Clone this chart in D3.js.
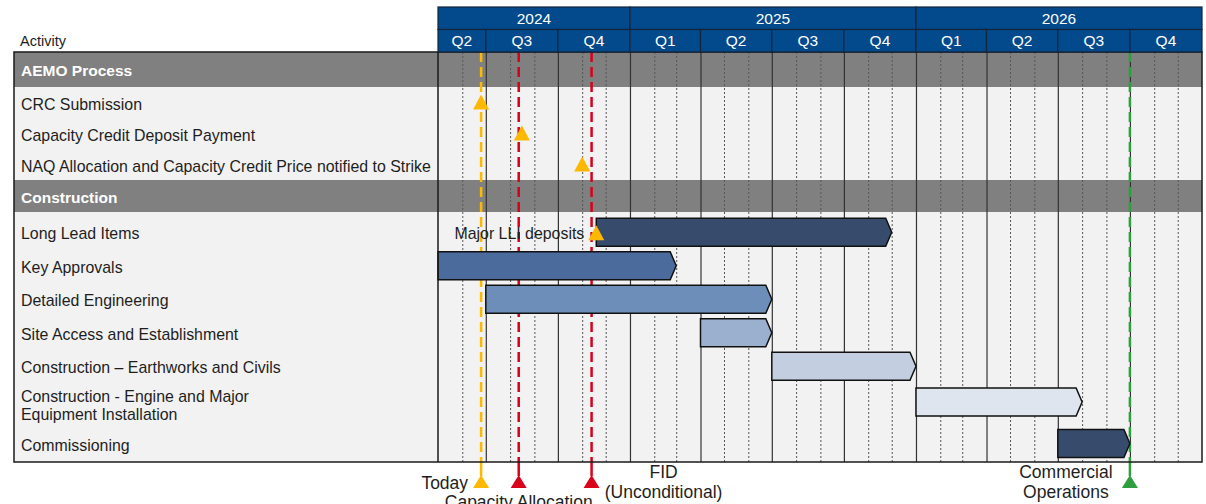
<!DOCTYPE html>
<html lang="en">
<head>
<meta charset="UTF-8">
<title>Project Schedule - Gantt</title>
<script src="https://d3js.org/d3.v7.min.js"></script>
<style>
    body { margin: 0; background: #fff; }
    text { font-family: "Liberation Sans", Arial, sans-serif; }
    .lbl { font-size: 15.9px; fill: #1e1e1e; }
    .sec { font-size: 15.5px; font-weight: bold; fill: #fff; }
    .hdr { font-size: 15.5px; fill: #fff; }
    .evt { font-size: 17.5px; fill: #1e1e1e; }
</style>
</head>
<body>
<div id="chart"></div>
<script>
    // ---- data ----
    const years = ["2024", "2025", "2026"];
    const quarterLabels = ["Q1", "Q2", "Q3", "Q4"];

    const sections = ["AEMO Process", "Construction"];

    const milestoneNames = [
        "CRC Submission",
        "Capacity Credit Deposit Payment",
        "NAQ Allocation and Capacity Credit Price notified to Strike"
    ];
    const milestoneDates = ["2024-06-25", "2024-08-16", "2024-11-01"];

    const taskNames = [
        "Long Lead Items",
        "Key Approvals",
        "Detailed Engineering",
        "Site Access and Establishment",
        "Construction \u2013 Earthworks and Civils",
        "Construction - Engine and Major|Equipment Installation",
        "Commissioning"
    ];
    const taskStarts = ["2024-11-19", "2024-05-01", "2024-07-01", "2025-04-01", "2025-07-01", "2026-01-01", "2026-07-01"];
    const taskEnds   = ["2025-12-01", "2025-03-01", "2025-07-01", "2025-07-01", "2026-01-01", "2026-08-01", "2026-10-01"];

    // milestone drawn on a task row
    const taskMilestoneName = "Major LLI deposits";
    const taskMilestoneDate = "2024-11-19";

    const eventNames = ["Today", "Capacity Allocation", "FID|(Unconditional)", "Commercial|Operations"];
    const eventDates = ["2024-06-25", "2024-08-12", "2024-11-13", "2026-10-01"];

    // ---- layout ----
    const W = 1206, H = 504;
    const tableLeft = 14, chartLeft = 438, chartRight = 1202;
    const tableTop = 52;
    const parse = d3.timeParse("%Y-%m-%d");
    const domainStart = parse("2024-05-01"), domainEnd = parse("2027-01-01");

    const taskColors = ["#374c6d", "#4a6b9b", "#6e8eba", "#9bafce", "#c3cee0", "#dfe5ef", "#374c6d"];
    const eventColors = ["#ffb800", "#d9001b", "#d9001b", "#2e9e3e"];
    const orange = "#ffb800";

    const x = d3.scaleTime().domain([domainStart, domainEnd]).range([chartLeft, chartRight]);

    // build rows top to bottom
    const rows = [];
    let cy = tableTop;
    function addRow(r, h) { r.y0 = cy; r.h = h; r.cy = cy + h / 2; cy += h; rows.push(r); }
    addRow({ kind: "section", name: sections[0] }, 35);
    milestoneNames.forEach((n, i) => addRow({ kind: "milestone", name: n, date: parse(milestoneDates[i]) }, 31));
    addRow({ kind: "section", name: sections[1] }, 32);
    cy += 3.5;
    taskNames.forEach((n, i) => {
        const tall = n.includes("|");
        const last = i === taskNames.length - 1;
        addRow({ kind: "task", name: n, i: i, start: parse(taskStarts[i]), end: parse(taskEnds[i]) },
            tall ? 42 : (last ? 37 : 33.5));
    });
    const tableBottom = cy;

    const svg = d3.select("#chart").append("svg")
        .attr("width", W).attr("height", H);

    // background
    svg.append("rect")
        .attr("x", tableLeft).attr("y", tableTop)
        .attr("width", chartRight - tableLeft).attr("height", tableBottom - tableTop)
        .attr("fill", "#f2f2f2");

    // section bands
    svg.append("g").selectAll("rect")
        .data(rows.filter(r => r.kind === "section"))
        .join("rect")
        .attr("x", tableLeft).attr("y", d => d.y0)
        .attr("width", chartRight - tableLeft).attr("height", d => d.h)
        .attr("fill", "#808080");

    // month gridlines (dotted) and quarter gridlines (solid)
    const months = d3.timeMonth.range(d3.timeDay.offset(domainStart, 1), domainEnd);
    const monthOnly = months.filter(d => d.getMonth() % 3 !== 0);
    const quarterLines = months.filter(d => d.getMonth() % 3 === 0);

    const gMonth = svg.append("g")
        .attr("transform", `translate(0,${tableBottom})`)
        .call(d3.axisBottom(x).tickValues(monthOnly).tickSize(-(tableBottom - tableTop)).tickFormat(""));
    gMonth.select(".domain").remove();
    gMonth.selectAll(".tick line").attr("stroke", "#555").attr("stroke-dasharray", "2,2");

    const gQuarter = svg.append("g")
        .attr("transform", `translate(0,${tableBottom})`)
        .call(d3.axisBottom(x).tickValues(quarterLines).tickSize(-(tableBottom - tableTop)).tickFormat(""));
    gQuarter.select(".domain").remove();
    gQuarter.selectAll(".tick line").attr("stroke", "#333").attr("stroke-width", 1.2);

    // event lines (dashed inside the chart, solid stem below)
    const events = eventNames.map((n, i) => ({ name: n, date: parse(eventDates[i]), color: eventColors[i], i: i }));
    const gEvt = svg.append("g");
    gEvt.selectAll("line.dash")
        .data(events).join("line")
        .attr("class", "dash")
        .attr("x1", d => x(d.date)).attr("x2", d => x(d.date))
        .attr("y1", tableTop).attr("y2", tableBottom)
        .attr("stroke", d => d.color).attr("stroke-width", 2.5)
        .attr("stroke-dasharray", "10,5");

    // task bars with chevron end
    const barH = 28, tip = 6;
    function barPath(d) {
        const x0 = Math.max(x(d.start), chartLeft), x1 = x(d.end);
        const y0 = d.cy - barH / 2 - (d.name.includes("|") ? 2 : 0), y1 = y0 + barH;
        const ym = (y0 + y1) / 2;
        return `M${x0},${y0}H${x1 - tip}L${x1},${ym}L${x1 - tip},${y1}H${x0}Z`;
    }
    svg.append("g").selectAll("path")
        .data(rows.filter(r => r.kind === "task"))
        .join("path")
        .attr("d", barPath)
        .attr("fill", d => taskColors[d.i])
        .attr("stroke", "#111").attr("stroke-width", 1.5)
        .attr("stroke-linejoin", "miter");

    // milestone triangles
    function tri(cx, cyy, w, h) {
        return `M${cx},${cyy - h / 2}L${cx + w / 2},${cyy + h / 2}L${cx - w / 2},${cyy + h / 2}Z`;
    }
    svg.append("g").selectAll("path")
        .data(rows.filter(r => r.kind === "milestone"))
        .join("path")
        .attr("d", d => tri(x(d.date), d.cy - 0.5, 16, 15))
        .attr("fill", orange);

    const lliRow = rows.find(r => r.kind === "task" && r.i === 0);
    const lliX = x(parse(taskMilestoneDate));
    svg.append("path")
        .attr("d", tri(lliX, lliRow.cy + 0.5, 16, 15))
        .attr("fill", orange);
    svg.append("text")
        .attr("class", "lbl")
        .attr("x", lliX - 12).attr("y", lliRow.cy + 1.5)
        .attr("dy", "0.35em").attr("text-anchor", "end")
        .text(taskMilestoneName);

    // stems and triangles below the chart
    gEvt.selectAll("line.stem")
        .data(events).join("line")
        .attr("class", "stem")
        .attr("x1", d => x(d.date)).attr("x2", d => x(d.date))
        .attr("y1", tableBottom).attr("y2", tableBottom + 14)
        .attr("stroke", d => d.color).attr("stroke-width", 2.5);
    svg.append("g").selectAll("path")
        .data(events).join("path")
        .attr("d", d => tri(x(d.date), tableBottom + 19.5, 16, 13))
        .attr("fill", d => d.color);

    // event labels
    const evtPos = [
        { dx: -13, y: 489, anchor: "end" },
        { dx: 0, y: 508, anchor: "middle" },
        { dx: 72, y: 478, anchor: "middle" },
        { dx: -64, y: 478, anchor: "middle" }
    ];
    events.forEach((d, i) => {
        const p = evtPos[i];
        const t = svg.append("text").attr("class", "evt")
            .attr("x", x(d.date) + p.dx).attr("y", p.y)
            .attr("text-anchor", p.anchor);
        d.name.split("|").forEach((s, k) => {
            t.append("tspan").attr("x", x(d.date) + p.dx).attr("dy", k ? 20 : 0).text(s);
        });
    });

    // row labels
    rows.forEach(r => {
        const lines = r.name.split("|");
        const t = svg.append("text")
            .attr("class", r.kind === "section" ? "sec" : "lbl")
            .attr("x", 21)
            .attr("y", r.cy + 1.5 - (lines.length - 1) * 9);
        lines.forEach((s, k) => t.append("tspan").attr("x", 21).attr("dy", k ? 18 : "0.35em").text(s));
    });

    // borders
    svg.append("rect")
        .attr("x", tableLeft).attr("y", tableTop)
        .attr("width", chartRight - tableLeft).attr("height", tableBottom - tableTop)
        .attr("fill", "none").attr("stroke", "#1a1a1a").attr("stroke-width", 1.5);
    svg.append("line")
        .attr("x1", chartLeft).attr("x2", chartLeft)
        .attr("y1", tableTop).attr("y2", tableBottom)
        .attr("stroke", "#1a1a1a").attr("stroke-width", 1.5);

    // header: years
    const headY = 7, headH = 22.5;
    const yearCells = years.map(y => {
        const s = d3.max([parse(y + "-01-01"), domainStart]);
        const e = d3.min([parse((+y + 1) + "-01-01"), domainEnd]);
        return { label: y, s: s, e: e };
    });
    const gYear = svg.append("g");
    gYear.selectAll("rect").data(yearCells).join("rect")
        .attr("x", d => x(d.s)).attr("y", headY)
        .attr("width", d => x(d.e) - x(d.s)).attr("height", headH)
        .attr("fill", "#034a8c").attr("stroke", "#14243a").attr("stroke-width", 1.2);
    gYear.selectAll("text").data(yearCells).join("text")
        .attr("class", "hdr")
        .attr("x", d => (x(d.s) + x(d.e)) / 2).attr("y", headY + headH / 2)
        .attr("dy", "0.35em").attr("text-anchor", "middle")
        .text(d => d.label);

    // header: quarters
    const qStarts = d3.timeMonth.every(3).range(parse("2024-04-01"), domainEnd);
    const quarterCells = qStarts.map(q => ({
        label: quarterLabels[Math.floor(q.getMonth() / 3)],
        s: d3.max([q, domainStart]),
        e: d3.min([d3.timeMonth.offset(q, 3), domainEnd])
    }));
    const gQ = svg.append("g");
    gQ.selectAll("rect").data(quarterCells).join("rect")
        .attr("x", d => x(d.s)).attr("y", headY + headH)
        .attr("width", d => x(d.e) - x(d.s)).attr("height", tableTop - headY - headH)
        .attr("fill", "#034a8c").attr("stroke", "#14243a").attr("stroke-width", 1.2);
    gQ.selectAll("text").data(quarterCells).join("text")
        .attr("class", "hdr")
        .attr("x", d => (x(d.s) + x(d.e)) / 2).attr("y", (headY + headH + tableTop) / 2)
        .attr("dy", "0.35em").attr("text-anchor", "middle")
        .text(d => d.label);

    svg.append("text")
        .attr("class", "lbl").style("font-size", "14.5px")
        .attr("x", 20).attr("y", 46)
        .text("Activity");
</script>
</body>
</html>
